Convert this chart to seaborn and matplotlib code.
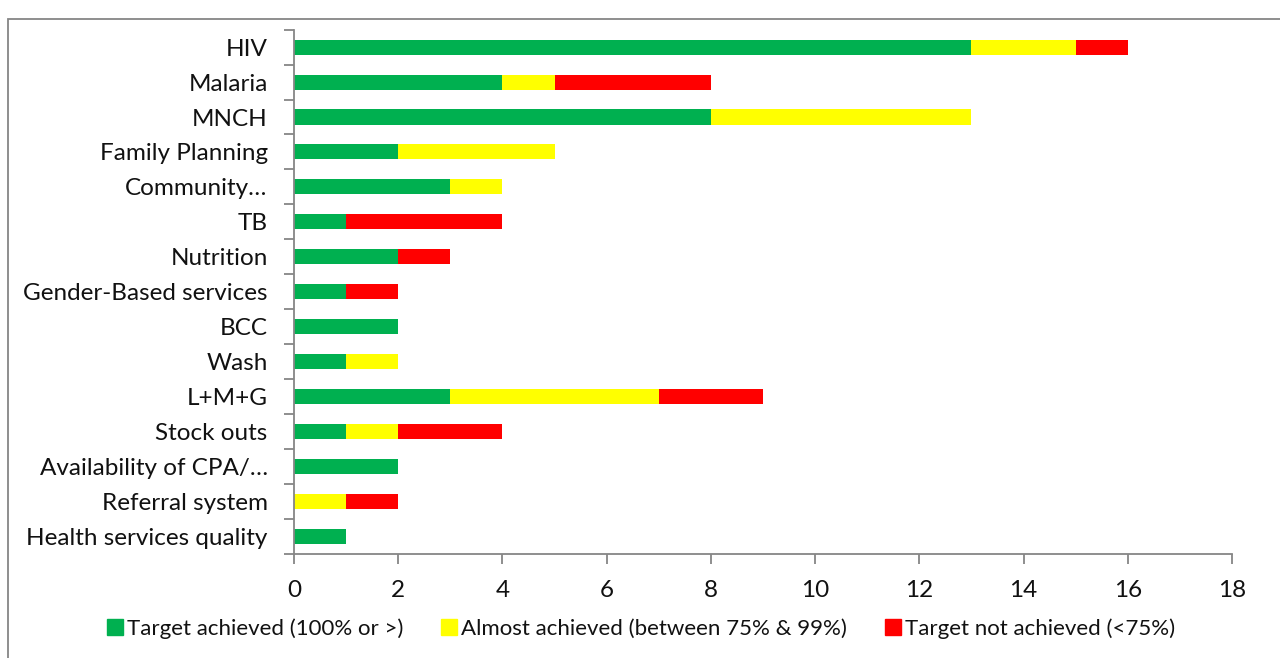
import matplotlib
matplotlib.use("Agg")
import matplotlib.pyplot as plt
from matplotlib.patches import Rectangle
from matplotlib.lines import Line2D
import seaborn as sns
import pandas as pd
import numpy as np

categories = [
    "HIV", "Malaria", "MNCH", "Family Planning", "Community\u2026", "TB",
    "Nutrition", "Gender-Based services", "BCC", "Wash", "L+M+G",
    "Stock outs", "Availability of CPA/\u2026", "Referral system",
    "Health services quality",
]
achieved = [13, 4, 8, 2, 3, 1, 2, 1, 2, 1, 3, 1, 2, 0, 1]
almost = [2, 1, 5, 3, 1, 0, 0, 0, 0, 1, 4, 1, 0, 1, 0]
not_achieved = [1, 3, 0, 0, 0, 3, 1, 1, 0, 0, 2, 2, 0, 1, 0]

series_labels = [
    "Target achieved (100% or >)",
    "Almost achieved (between 75% & 99%)",
    "Target not achieved (<75%)",
]
colors = ["#00B050", "#FFFF00", "#FF0000"]
xticks = [0, 2, 4, 6, 8, 10, 12, 14, 16, 18]

sns.set_theme(style="white")
plt.rcParams["font.family"] = ["Lato", "DejaVu Sans"]

df = pd.DataFrame({
    "category": categories,
    "achieved": achieved,
    "almost": almost,
    "not_achieved": not_achieved,
})
df["cum1"] = df["achieved"]
df["cum2"] = df["achieved"] + df["almost"]
df["cum3"] = df["cum2"] + df["not_achieved"]

fig = plt.figure(figsize=(12.8, 6.58), dpi=100)
ax = fig.add_axes([0.2297, 0.158, 0.7328, 0.797])

bar_w = 0.43
# stacked bars: draw cumulative totals back to front
for col, c in zip(["cum3", "cum2", "cum1"], colors[::-1]):
    sns.barplot(data=df, y="category", x=col, orient="h", color=c,
                width=bar_w, ax=ax, saturation=1, linewidth=0,
                order=categories)

ax.set_xlim(0, 18)
ax.set_ylim(len(categories) - 0.5, -0.5)
ax.set_xticks(xticks)
ax.set_xticklabels([str(t) for t in xticks], fontsize=17.5, color="#111111")
ax.set_xlabel("")
ax.set_ylabel("")

# category boundaries carry the y tick marks
ax.set_yticks(np.arange(-0.5, len(categories) + 0.5, 1.0))
ax.set_yticklabels([])
ax.set_yticks(np.arange(len(categories)), minor=True)
ax.set_yticklabels(categories, minor=True, fontsize=17.5, color="#111111")
ax.tick_params(axis="y", which="major", length=7, width=1.3, color="#868686", direction="out", left=True)
ax.tick_params(axis="y", which="minor", length=0, pad=19)
ax.tick_params(axis="x", length=7, width=1.3, color="#868686", direction="out", bottom=True, pad=12)
ax.tick_params(axis="x", which="minor", length=0)

for s in ["top", "right"]:
    ax.spines[s].set_visible(False)
for s in ["left", "bottom"]:
    ax.spines[s].set_color("#868686")
    ax.spines[s].set_linewidth(1.3)

handles = [Line2D([0], [0], marker="s", linestyle="none", markersize=11,
                  markerfacecolor=c, markeredgecolor=c) for c in colors]
fig.legend(handles, series_labels, loc="center", bbox_to_anchor=(0.5, 0.045),
           ncol=3, frameon=False, fontsize=16, handletextpad=0.1,
           columnspacing=1.6, handlelength=0.9, labelcolor="#111111")

# chart frame
fig.patches.append(Rectangle((8 / 1280, -0.02), 1.05, 1 - 19 / 658 + 0.02,
                             transform=fig.transFigure, fill=False,
                             edgecolor="#868686", linewidth=1.3))

fig.savefig("out.png", dpi=100)
